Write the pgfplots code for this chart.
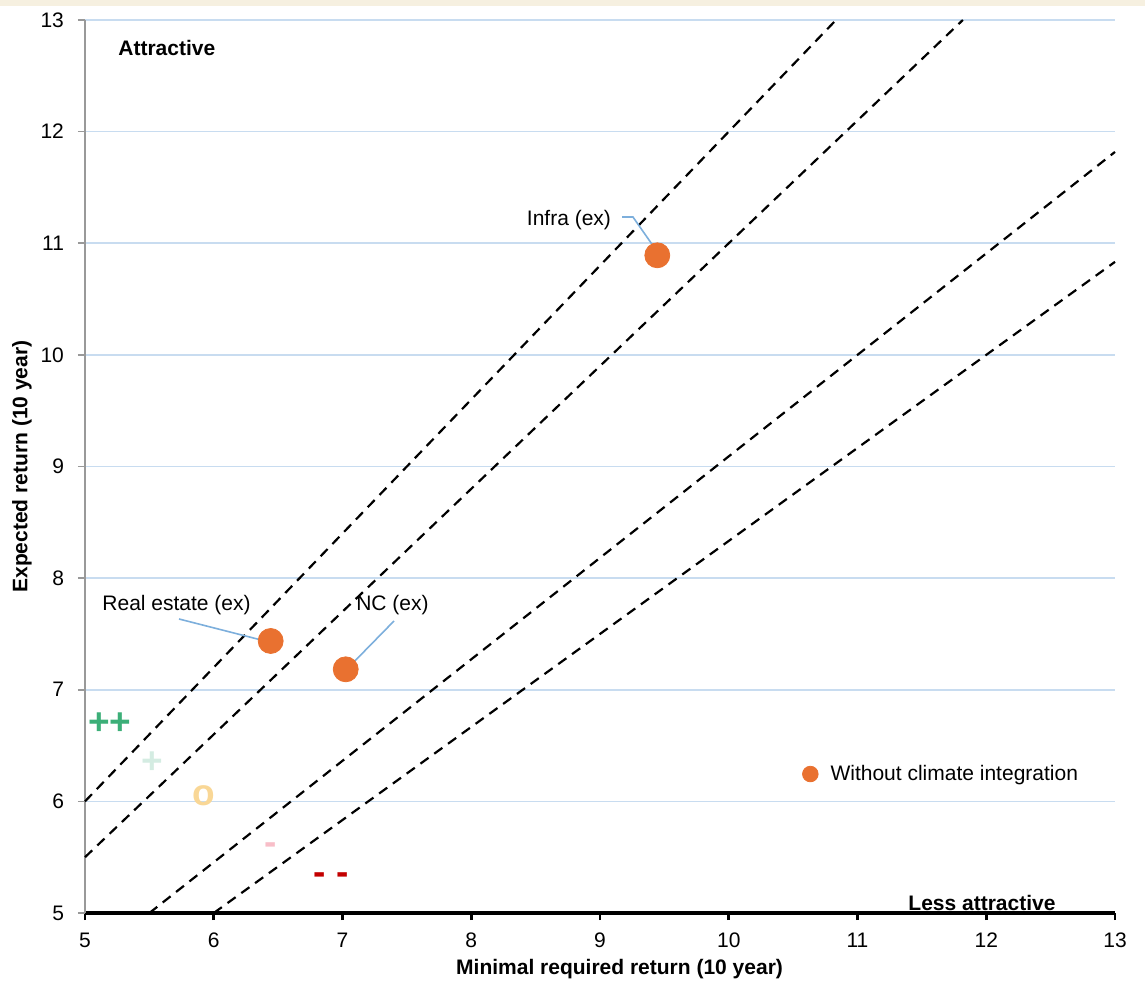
\documentclass[border=0pt]{standalone}
\usepackage{fontspec}
\setmainfont{Liberation Sans}
\usepackage{pgfplots}
\pgfplotsset{compat=1.18}
\usetikzlibrary{calc}
\definecolor{oc}{RGB}{233,113,48}
\definecolor{gridc}{RGB}{200,220,240}
\definecolor{leadc}{RGB}{125,175,220}
\definecolor{gpp}{RGB}{60,175,120}
\definecolor{gp}{RGB}{212,236,226}
\definecolor{go}{RGB}{249,215,150}
\definecolor{gm}{RGB}{248,190,200}
\definecolor{gmm}{RGB}{195,0,0}
\definecolor{beige}{RGB}{246,240,224}
\newcommand{\fs}{\fontsize{10.5}{12.5}\selectfont}
\newcommand{\fsym}{\bfseries\fontsize{18.5}{18.5}\selectfont}
\begin{document}
\begin{tikzpicture}
\begin{axis}[
  name=ax, scale only axis, width=515pt, height=446.5pt,
  xmin=5, xmax=13, ymin=5, ymax=13,
  xtick={5,...,13}, ytick={5,...,13},
  axis x line*=bottom, axis y line*=left,
  x axis line style={black, line width=2.2pt},
  y axis line style={gray!80, line width=0.8pt},
  tick align=outside,
  major tick length=3.5pt,
  xtick style={black, line width=1.4pt},
  ytick style={gray!80, line width=0.8pt},
  ymajorgrids, grid style={gridc, line width=0.8pt},
  /pgf/number format/assume math mode=true,
  tick label style={font=\fs},
  xticklabel style={yshift=-3pt},
  yticklabel style={xshift=-3.5pt},
  xlabel={\bfseries Minimal required return (10 year)},
  ylabel={\bfseries Expected return (10 year)},
  every axis x label/.style={at={(rel axis cs:0.519,0)}, anchor=center, yshift=-28pt, font=\fs},
  every axis y label/.style={at={(rel axis cs:0,0.5)}, xshift=-31.5pt, rotate=90, anchor=center, font=\fs},
  legend style={at={(axis cs:10.570,6.245)}, anchor=west, draw=none, fill=none, inner sep=0pt, outer sep=0pt,
    font=\fs, /tikz/every odd column/.append style={column sep=4pt}},
  legend cell align=left,
  clip=false,
]
% dashed reference lines
\addplot[forget plot, black, dashed, line width=1.1pt, dash pattern=on 5pt off 3.5pt] coordinates {(5,6) (10.8333,13)};
\addplot[forget plot, black, dashed, line width=1.1pt, dash pattern=on 5pt off 3.5pt] coordinates {(5,5.5) (11.8182,13)};
\addplot[forget plot, black, dashed, line width=1.1pt, dash pattern=on 5pt off 3.5pt] coordinates {(5.5,5) (13,11.8182)};
\addplot[forget plot, black, dashed, line width=1.1pt, dash pattern=on 5pt off 3.5pt] coordinates {(6,5) (13,10.8333)};
% leader lines
\draw[leadc, line width=0.8pt] (axis cs:5.730,7.634) -- (axis cs:6.460,7.419);
\draw[leadc, line width=0.8pt] (axis cs:7.400,7.616) -- (axis cs:7.035,7.186);
\draw[leadc, line width=0.8pt] (axis cs:9.171,11.235) -- (axis cs:9.256,11.235) -- (axis cs:9.451,10.913);
% points
\addplot[only marks, mark=*, mark size=6.25pt, color=oc, mark options={draw=oc, fill=oc},
  legend image code/.code={\fill[oc] (0pt,0pt) circle (3.9pt);}]
  coordinates {(6.442,7.437) (7.025,7.183) (9.445,10.892)};
\addlegendentry{Without climate integration}
% scale symbols
\addplot[forget plot, only marks, mark=text, text mark={++}, text mark as node=true,
  text mark style={font=\fsym, text=gpp}] coordinates {(5.194,6.70)};
\addplot[forget plot, only marks, mark=text, text mark={+}, text mark as node=true,
  text mark style={font=\fsym, text=gp}] coordinates {(5.520,6.35)};
\addplot[forget plot, only marks, mark=text, text mark={o}, text mark as node=true,
  text mark style={font=\fsym, text=go}] coordinates {(5.924,6.05)};
\addplot[forget plot, only marks, mark=text, text mark={-}, text mark as node=true,
  text mark style={font=\fsym, text=gm}] coordinates {(6.445,5.58)};
\addplot[forget plot, only marks, mark=text, text mark={- -}, text mark as node=true,
  text mark style={font=\fsym, text=gmm}] coordinates {(6.911,5.31)};
% texts
\node[font=\fs] at (axis cs:5.711,7.759) {Real estate (ex)};
\node[font=\fs] at (axis cs:7.388,7.759) {NC (ex)};
\node[font=\fs] at (axis cs:8.759,11.208) {Infra (ex)};
\node[font=\bfseries\fs, anchor=west, inner sep=0pt] at (axis cs:5.256,12.75) {Attractive};
\node[font=\bfseries\fs] at (axis cs:11.967,5.089) {Less attractive};
\end{axis}
\fill[beige] ($(ax.north west)+(-42.5pt,10pt)$) rectangle ($(ax.north east)+(15pt,7pt)$);
\pgfresetboundingbox
\path ($(ax.south west)+(-42.5pt,-40.5pt)$) rectangle ($(ax.north east)+(15pt,10pt)$);
\end{tikzpicture}
\end{document}
